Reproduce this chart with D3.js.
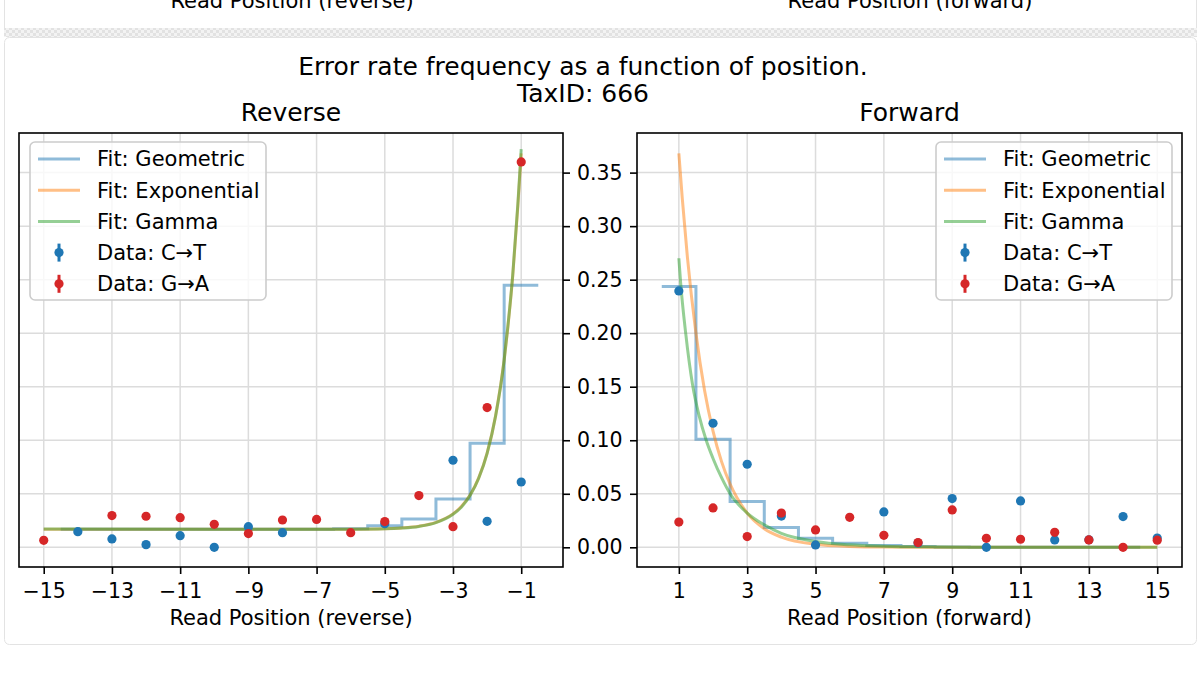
<!DOCTYPE html>
<html>
<head>
<meta charset="utf-8">
<script src="https://cdn.jsdelivr.net/npm/d3@7"></script>
<style>
  html, body { margin: 0; padding: 0; background: #fff; }
  svg { display: block; font-family: "DejaVu Sans", sans-serif; }
</style>
</head>
<body>
<svg id="chart" width="1200" height="675"></svg>
<script>
// ── data ──
const revPositions = [-15, -14, -13, -12, -11, -10, -9, -8, -7, -6, -5, -4, -3, -2, -1];
const revCT = [null, 0.0146, 0.0078, 0.0025, 0.0109, 0.0, 0.0193, 0.0137, null, null, 0.022, null, 0.0813, 0.0243, 0.061];
const revGA = [0.0065, null, 0.0296, 0.029, 0.0277, 0.0215, 0.0128, 0.0255, 0.026, 0.0137, 0.024, 0.0483, 0.0193, 0.1305, 0.360];

const fwdPositions = [1, 2, 3, 4, 5, 6, 7, 8, 9, 10, 11, 12, 13, 14, 15];
const fwdCT = [0.2395, 0.1159, 0.0776, 0.0292, 0.0022, null, 0.033, 0.004, 0.0455, 0.0, 0.0433, 0.0069, 0.007, 0.0287, 0.0087];
const fwdGA = [0.0236, 0.0368, 0.010, 0.0320, 0.0162, 0.028, 0.0112, 0.0044, 0.0349, 0.0084, 0.0075, 0.014, 0.0069, 0.0, 0.0067];

// geometric fit, one value per position (drawn as steps)
const revGeoPos = [-14, -13, -12, -11, -10, -9, -8, -7, -6, -5, -4, -3, -2, -1];
const revGeo = [0.0168, 0.0168, 0.0168, 0.0168, 0.0168, 0.0168, 0.0168, 0.0169, 0.0174, 0.0202, 0.0265, 0.0452, 0.0972, 0.2449];
const fwdGeoPos = [1, 2, 3, 4, 5, 6, 7, 8, 9, 10, 11, 12, 13, 14];
const fwdGeo = [0.2436, 0.101, 0.0427, 0.0184, 0.0084, 0.0037, 0.0016, 0.0007, 0.0003, 0.0001, 0, 0, 0, 0];

// smooth fits, sampled along the curves
const revFitX = [-15, -10, -7, -6, -5, -4.5, -4, -3.5, -3, -2.75, -2.5, -2.25, -2, -1.75, -1.5, -1.4, -1.25, -1.1, -1];
const revExp = [0.0168, 0.0168, 0.0168, 0.0169, 0.0174, 0.0181, 0.0197, 0.0233, 0.0312, 0.0383, 0.0488, 0.0646, 0.088, 0.123, 0.175, 0.203, 0.253, 0.318, 0.368];
const revGam = [0.0170, 0.0169, 0.0168, 0.0169, 0.0173, 0.0180, 0.0195, 0.0230, 0.0308, 0.0377, 0.0485, 0.0643, 0.0878, 0.1228, 0.175, 0.204, 0.254, 0.320, 0.372];

const fwdExpX = [1, 1.1, 1.25, 1.5, 1.75, 2, 2.25, 2.5, 3, 3.5, 4, 5, 6, 7, 8, 10, 15];
const fwdExp = [0.368, 0.326, 0.271, 0.200, 0.147, 0.1086, 0.080, 0.059, 0.032, 0.0174, 0.0095, 0.0028, 0.0008, 0.0002, 0.0001, 0, 0];
const fwdGamX = [1, 1.05, 1.2, 1.4, 1.6, 1.8, 2, 2.25, 2.5, 3, 3.5, 4, 5, 6, 7, 8, 10, 15];
const fwdGam = [0.270, 0.248, 0.200, 0.152, 0.122, 0.100, 0.083, 0.065, 0.050, 0.032, 0.021, 0.013, 0.0055, 0.0023, 0.001, 0.0004, 0.0001, 0];

const revTicks = [-15, -13, -11, -9, -7, -5, -3, -1];
const fwdTicks = [1, 3, 5, 7, 9, 11, 13, 15];
const yTicks = [0, 0.05, 0.10, 0.15, 0.20, 0.25, 0.30, 0.35];
const legendLabels = ["Fit: Geometric", "Fit: Exponential", "Fit: Gamma", "Data: C→T", "Data: G→A"];

const C = { geo: "#1f77b4", exp: "#ff7f0e", gam: "#2ca02c", ct: "#1f77b4", ga: "#d62728" };

const svg = d3.select("#chart");
const defs = svg.append("defs");

// ── page chrome: cut-off previous card + checker divider + card ──
const checker = defs.append("pattern").attr("id", "checker")
  .attr("width", 6).attr("height", 6).attr("patternUnits", "userSpaceOnUse");
checker.append("rect").attr("width", 6).attr("height", 6).attr("fill", "#f3f3f3");
checker.append("rect").attr("width", 3).attr("height", 3).attr("fill", "#e2e2e2");
checker.append("rect").attr("x", 3).attr("y", 3).attr("width", 3).attr("height", 3).attr("fill", "#e2e2e2");

svg.append("line").attr("x1", 4.5).attr("x2", 4.5).attr("y1", 0).attr("y2", 28).attr("stroke", "#e3e3e3");
svg.append("line").attr("x1", 1196.5).attr("x2", 1196.5).attr("y1", 0).attr("y2", 28).attr("stroke", "#e3e3e3");
svg.append("rect").attr("x", 4).attr("y", 28).attr("width", 1193).attr("height", 9).attr("fill", "url(#checker)");
svg.append("rect").attr("x", 4.5).attr("y", 37.5).attr("width", 1192).attr("height", 607)
  .attr("rx", 5).attr("fill", "#fff").attr("stroke", "#e3e3e3");

// ── shared y ──
const y = d3.scaleLinear().domain([-0.0184, 0.387]).range([567, 133]);

const drawPanel = (p) => {
  const x = d3.scaleLinear().domain(p.domain).range(p.range);
  const g = svg.append("g");
  const [x0, x1] = p.range;

  // grid
  g.append("g").selectAll("line").data(p.ticks).join("line")
    .attr("x1", (d) => x(d)).attr("x2", (d) => x(d)).attr("y1", 133).attr("y2", 567)
    .attr("stroke", "#dcdcdc").attr("stroke-width", 1.5);
  g.append("g").selectAll("line").data(yTicks).join("line")
    .attr("x1", x0).attr("x2", x1).attr("y1", (d) => y(d)).attr("y2", (d) => y(d))
    .attr("stroke", "#dcdcdc").attr("stroke-width", 1.5);

  // geometric steps
  const stepPts = p.geoPos.flatMap((pos, i) => [[pos - 0.5, p.geo[i]], [pos + 0.5, p.geo[i]]]);
  const line = d3.line().x((d) => x(d[0])).y((d) => y(d[1]));
  g.append("path").attr("d", line(stepPts))
    .attr("fill", "none").attr("stroke", C.geo).attr("stroke-opacity", 0.5).attr("stroke-width", 3);

  const smooth = d3.line().curve(d3.curveMonotoneX).x((d) => x(d[0])).y((d) => y(d[1]));
  g.append("path").attr("d", smooth(p.expX.map((v, i) => [v, p.exp[i]])))
    .attr("fill", "none").attr("stroke", C.exp).attr("stroke-opacity", 0.5).attr("stroke-width", 3);
  g.append("path").attr("d", smooth(p.gamX.map((v, i) => [v, p.gam[i]])))
    .attr("fill", "none").attr("stroke", C.gam).attr("stroke-opacity", 0.5).attr("stroke-width", 3);

  // data points: C→T first, G→A on top
  [[p.ct, C.ct], [p.ga, C.ga]].forEach(([vals, col]) => {
    g.append("g").selectAll("circle")
      .data(p.positions.map((pos, i) => [pos, vals[i]]).filter((d) => d[1] !== null))
      .join("circle")
      .attr("cx", (d) => x(d[0])).attr("cy", (d) => y(d[1])).attr("r", 4.6).attr("fill", col);
  });

  // x axis
  const xAxis = g.append("g").attr("transform", "translate(0,567)")
    .call(d3.axisBottom(x).tickValues(p.ticks).tickSize(7).tickPadding(9).tickSizeOuter(0));
  xAxis.select(".domain").remove();
  xAxis.selectAll("line").attr("stroke-width", 1.6);
  xAxis.selectAll("text").attr("font-size", 20.5).attr("font-family", "DejaVu Sans");

  // y axis
  const yAx = p.yRight
    ? d3.axisRight(y).tickValues(yTicks).tickSize(7).tickPadding(7).tickFormat(d3.format(".2f"))
    : d3.axisLeft(y).tickValues(yTicks).tickSize(7).tickFormat("");
  const yAxis = g.append("g").attr("transform", `translate(${p.yRight ? x1 : x0},0)`).call(yAx.tickSizeOuter(0));
  yAxis.select(".domain").remove();
  yAxis.selectAll("line").attr("stroke-width", 1.6);
  yAxis.selectAll("text").attr("font-size", 20.5).attr("font-family", "DejaVu Sans");

  // frame
  g.append("rect").attr("x", x0).attr("y", 133).attr("width", x1 - x0).attr("height", 434)
    .attr("fill", "none").attr("stroke", "#000").attr("stroke-width", 1.6);

  // titles
  g.append("text").attr("x", (x0 + x1) / 2).attr("y", 121).attr("text-anchor", "middle")
    .attr("font-size", 25).text(p.title);
  g.append("text").attr("x", (x0 + x1) / 2).attr("y", 625).attr("text-anchor", "middle")
    .attr("font-size", 21).text(p.xlabel);

  // legend
  const lg = g.append("g").attr("transform", `translate(${p.legendX},142)`);
  lg.append("rect").attr("width", 236).attr("height", 158).attr("rx", 5)
    .attr("fill", "#fff").attr("fill-opacity", 0.8).attr("stroke", "#cccccc").attr("stroke-width", 1.6);
  const legendColors = [C.geo, C.exp, C.gam, C.ct, C.ga];
  legendLabels.forEach((label, i) => {
    const ry = 17 + i * 31.2;
    if (i < 3) {
      lg.append("line").attr("x1", 8).attr("x2", 50).attr("y1", ry).attr("y2", ry)
        .attr("stroke", legendColors[i]).attr("stroke-opacity", 0.5).attr("stroke-width", 3);
    } else {
      lg.append("line").attr("x1", 29).attr("x2", 29).attr("y1", ry - 9).attr("y2", ry + 9)
        .attr("stroke", legendColors[i]).attr("stroke-width", 3);
      lg.append("circle").attr("cx", 29).attr("cy", ry).attr("r", 4.6).attr("fill", legendColors[i]);
    }
    lg.append("text").attr("x", 67).attr("y", ry).attr("dy", "0.35em").attr("font-size", 21).text(label);
  });

  return g;
};

drawPanel({
  domain: [-15.725, 0.225], range: [19, 563], ticks: revTicks, yRight: true,
  positions: revPositions, ct: revCT, ga: revGA, geoPos: revGeoPos, geo: revGeo,
  expX: revFitX, exp: revExp, gamX: revFitX, gam: revGam,
  title: "Reverse", xlabel: "Read Position (reverse)", legendX: 30
});

drawPanel({
  domain: [-0.225, 15.725], range: [637, 1182], ticks: fwdTicks, yRight: false,
  positions: fwdPositions, ct: fwdCT, ga: fwdGA, geoPos: fwdGeoPos, geo: fwdGeo,
  expX: fwdExpX, exp: fwdExp, gamX: fwdGamX, gam: fwdGam,
  title: "Forward", xlabel: "Read Position (forward)", legendX: 936
});

// suptitle
svg.append("text").attr("x", 583).attr("y", 75).attr("text-anchor", "middle").attr("font-size", 25)
  .text("Error rate frequency as a function of position.");
svg.append("text").attr("x", 583).attr("y", 102).attr("text-anchor", "middle").attr("font-size", 25)
  .text("TaxID: 666");

// labels of the card above, cut off by the top edge as in the screenshot
svg.append("text").attr("x", 292).attr("y", 8).attr("text-anchor", "middle").attr("font-size", 21)
  .text("Read Position (reverse)");
svg.append("text").attr("x", 910).attr("y", 8).attr("text-anchor", "middle").attr("font-size", 21)
  .text("Read Position (forward)");
</script>
</body>
</html>
